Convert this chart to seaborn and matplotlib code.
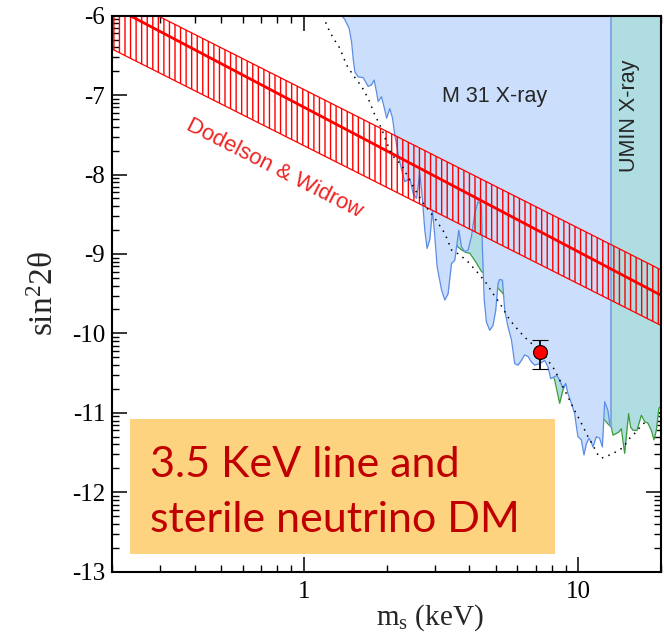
import numpy as np
import pandas as pd
import matplotlib
matplotlib.use("Agg")
import matplotlib.pyplot as plt
from matplotlib.ticker import LogLocator, FixedLocator, FuncFormatter, NullFormatter
from matplotlib.patches import Rectangle
import seaborn as sns

# Axis tick values
mass_ticks = [1, 10]
log_ticks = [-13, -12, -11, -10, -9, -8, -7, -6]

# Dodelson & Widrow production band, log10(sin^2 2theta) at the ends of the mass range
dw_mass = [0.2, 20.0]
dw_upper = [-5.71, -9.20]
dw_center = [-5.88, -9.52]
dw_lower = [-6.42, -9.90]

# M31 X-ray exclusion boundary (keV, log10 sin^2 2theta)
m31_mass = [1.375, 1.410, 1.462, 1.492, 1.512, 1.534, 1.576, 1.644, 1.714, 1.764,
            1.803, 1.839, 1.864, 1.918, 1.972, 2.001, 2.057, 2.103, 2.144, 2.208,
            2.269, 2.332, 2.432, 2.500, 2.572, 2.644, 2.705, 2.757, 2.811, 2.875,
            2.941, 2.999, 3.058, 3.172, 3.261, 3.352, 3.450, 3.546, 3.667, 3.751,
            3.856, 3.964, 4.078, 4.193, 4.310, 4.435, 4.472, 4.540, 4.625, 4.754,
            4.887, 4.999, 5.097, 5.170, 5.289, 5.392, 5.543, 5.703, 5.863, 6.027,
            6.201, 6.375, 6.554, 6.743, 6.932, 7.228, 7.538, 7.749, 7.928, 8.130,
            8.357, 8.548, 8.788, 8.990, 9.165, 9.430, 9.694, 9.883, 9.966, 10.25,
            10.48, 10.69, 10.93, 11.15, 11.30, 11.63, 11.95, 12.23, 12.47, 12.81,
            13.00, 13.19]
m31_log = [-6.00, -6.05, -6.16, -6.33, -6.54, -6.71, -6.77, -6.78, -6.89, -6.87,
           -6.81, -6.96, -7.08, -7.02, -7.19, -7.29, -7.17, -7.29, -7.50, -7.75,
           -7.94, -8.09, -8.05, -8.24, -8.30, -7.98, -8.32, -8.70, -8.93, -8.82,
           -8.45, -8.78, -9.16, -9.45, -9.58, -9.50, -9.12, -9.08, -8.70, -8.91,
           -8.97, -8.95, -8.78, -8.49, -8.34, -8.38, -8.95, -9.58, -9.86, -9.96,
           -9.90, -9.71, -9.37, -9.32, -9.33, -9.71, -9.92, -10.08, -10.38, -10.40,
           -10.34, -10.27, -10.29, -10.36, -10.40, -10.38, -10.34, -10.42, -10.57, -10.55,
           -10.53, -10.59, -10.69, -10.63, -10.76, -10.88, -11.01, -11.22, -11.30, -11.34,
           -11.53, -11.39, -11.32, -11.37, -11.43, -11.30, -11.32, -11.43, -10.86, -10.97,
           -11.13, -11.18]

# Ursa Minor X-ray exclusion boundary
umin_mass = [3.546, 3.636, 3.760, 3.888, 4.020, 4.228, 4.435, 4.754, 5.097, 5.289,
             5.622, 6.113, 6.646, 7.228, 7.749, 8.200, 8.548, 8.788, 8.990, 9.297,
             9.694, 10.54, 11.47, 12.26, 12.47, 12.81, 13.19, 13.36, 13.75, 14.05,
             14.34, 14.74, 14.95, 15.24, 15.50, 15.81, 16.35, 16.96, 17.43, 17.92,
             18.44, 18.85, 19.23, 19.65, 20.0]
umin_log = [-8.82, -8.91, -8.95, -8.98, -8.99, -9.10, -9.22, -9.30, -9.43, -9.49,
            -9.64, -9.86, -10.08, -10.25, -10.36, -10.59, -10.88, -10.71, -10.63, -10.71,
            -10.84, -10.97, -11.03, -11.07, -11.09, -11.14, -11.18, -11.28, -11.26, -11.24,
            -11.20, -11.51, -11.30, -11.01, -11.18, -11.22, -11.22, -11.03, -11.11, -11.13,
            -11.22, -11.34, -11.22, -10.94, -10.92]

# Combined limit (dotted)
limit_mass = [1.183, 1.209, 1.278, 1.352, 1.430, 1.512, 1.622, 1.714, 1.814, 1.918,
              2.001, 2.086, 2.269, 2.500, 2.719, 2.999, 3.261, 3.450, 3.698, 3.964,
              4.310, 4.625, 4.887, 5.170, 5.622, 6.113, 6.646, 7.333, 7.749, 8.200,
              8.671, 9.165, 9.694, 10.25, 10.84, 11.30, 11.79, 12.13, 12.65, 13.36,
              14.13, 14.74, 15.38, 16.03, 16.96, 17.88]
limit_log = [-6.00, -6.12, -6.28, -6.41, -6.62, -6.75, -6.89, -7.04, -7.25, -7.42,
             -7.59, -7.75, -7.88, -8.15, -8.36, -8.55, -8.74, -8.95, -9.01, -9.10,
             -9.24, -9.37, -9.50, -9.62, -9.83, -9.98, -10.11, -10.21, -10.34, -10.46,
             -10.63, -10.80, -10.97, -11.13, -11.30, -11.41, -11.53, -11.57, -11.55, -11.51,
             -11.47, -11.41, -11.32, -11.26, -11.16, -11.09]

# 3.5 keV line
line_mass = 7.25
line_log = -10.23
line_log_hi = -10.085
line_log_lo = -10.45

sns.set_theme(style="ticks")
plt.rcParams["font.family"] = ["Liberation Serif", "DejaVu Serif"]
plt.rcParams["mathtext.fontset"] = "custom"
plt.rcParams["mathtext.rm"] = "Liberation Serif"
plt.rcParams["mathtext.default"] = "regular"
plt.rcParams["axes.unicode_minus"] = False
plt.rcParams["hatch.linewidth"] = 1.0

fig = plt.figure(figsize=(6.64, 6.35), dpi=100)
ax = fig.add_axes([0.1687, 0.0997, 0.8268, 0.8756])
ax.set_xscale("log")
ax.set_yscale("log")
ax.set_xlim(0.2, 20)
ax.set_ylim(1e-13, 1e-6)

top = 1e-6
m31 = pd.DataFrame({"m": m31_mass, "s": 10 ** np.array(m31_log)})
umin = pd.DataFrame({"m": umin_mass, "s": 10 ** np.array(umin_log)})
limit = pd.DataFrame({"m": limit_mass, "s": 10 ** np.array(limit_log)})

blue_fill = "#CBDFFC"
teal_fill = "#AFDDE2"
blue_line = "#5C8CE6"
green_line = "#3C9A3C"

# UMIN excluded region
ax.fill_between(umin["m"], umin["s"], top, color=teal_fill, lw=0, zorder=1)
sns.lineplot(data=umin, x="m", y="s", sort=False, estimator=None,
             color=green_line, lw=0.9, ax=ax, zorder=1.5)

# M31 excluded region
ax.fill_between(m31["m"], m31["s"], top, color=blue_fill, lw=0, zorder=2)
sns.lineplot(data=m31, x="m", y="s", sort=False, estimator=None,
             color=blue_line, lw=0.9, ax=ax, zorder=2.5)
ax.plot([m31_mass[-1], m31_mass[-1]], [10 ** m31_log[-1], top],
        color="#7BA3E3", lw=1.3, zorder=2.6)

# Dodelson & Widrow band
dw_m = np.array(dw_mass)
ax.fill_between(dw_m, 10 ** np.array(dw_lower), 10 ** np.array(dw_upper),
                facecolor="none", edgecolor="#FF0000", hatch="|||", lw=0, zorder=3)
ax.plot(dw_m, 10 ** np.array(dw_upper), color="#FF0000", lw=0.9, zorder=3.1)
ax.plot(dw_m, 10 ** np.array(dw_lower), color="#FF0000", lw=0.9, zorder=3.1)
ax.plot(dw_m, 10 ** np.array(dw_center), color="#FF0000", lw=2.0, zorder=3.2)

# Combined limit
sns.lineplot(data=limit, x="m", y="s", sort=False, estimator=None,
             color="black", lw=1.1, linestyle=(0, (1, 3.5)), ax=ax, zorder=4)

# 3.5 keV line point
s0 = 10 ** line_log
ax.errorbar([line_mass], [s0],
            yerr=[[s0 - 10 ** line_log_lo], [10 ** line_log_hi - s0]],
            fmt="o", mfc="#FF0000", mec="black", mew=0.8, ms=10,
            ecolor="black", elinewidth=1.3, capsize=6, capthick=1.3, zorder=5)

# Labels inside the plot
ax.text(4.96, 10 ** -7.02, "M 31 X-ray", family="Liberation Sans", fontsize=15.5,
        ha="center", va="center", zorder=6)
ax.text(15.38, 10 ** -7.26, "UMIN X-ray", family="Liberation Sans", fontsize=15.5,
        rotation=90, ha="center", va="center", zorder=6)
ax.text(0.78, 10 ** -7.92, "Dodelson & Widrow", family="Liberation Sans",
        fontsize=16, color="#EE2424", rotation=-27, rotation_mode="anchor",
        ha="center", va="center", zorder=6)

# Highlight box
ax.add_patch(Rectangle((0.0328, 0.0313), 0.7736, 0.2433, transform=ax.transAxes,
                       facecolor="#FDD37F", edgecolor="none", zorder=7))
ax.text(0.0692, 0.1703, "3.5 KeV line and", transform=ax.transAxes,
        family="Lato", fontsize=31, color="#C00000", ha="left", va="baseline", zorder=8)
ax.text(0.0692, 0.0714, "sterile neutrino DM", transform=ax.transAxes,
        family="Lato", fontsize=31, color="#C00000", ha="left", va="baseline", zorder=8)

# Axes styling
ax.xaxis.set_major_locator(FixedLocator(mass_ticks))
ax.xaxis.set_minor_locator(LogLocator(base=10, subs=np.arange(2, 10), numticks=100))
ax.yaxis.set_major_locator(FixedLocator([10.0 ** k for k in log_ticks]))
ax.yaxis.set_minor_locator(LogLocator(base=10, subs=np.arange(2, 10), numticks=100))
ax.xaxis.set_major_formatter(FuncFormatter(lambda v, p: f"{v:g}"))
ax.yaxis.set_major_formatter(FuncFormatter(lambda v, p: f"{int(round(np.log10(v)))}"))
ax.xaxis.set_minor_formatter(NullFormatter())
ax.yaxis.set_minor_formatter(NullFormatter())
ax.tick_params(which="both", direction="in", top=True, right=True,
               colors="black", labelsize=18)
ax.tick_params(which="major", length=10.5, width=1.1)
ax.tick_params(which="minor", length=5, width=1.0)
ax.tick_params(axis="y", pad=5)
ax.tick_params(axis="x", pad=7)
for sp in ax.spines.values():
    sp.set_linewidth(1.5)
    sp.set_color("black")
    sp.set_zorder(10)

ax.set_xlabel(r"m$_{\rm s}$ (keV)", fontsize=21, ha="center", va="center")
ax.xaxis.set_label_coords(0.579, -0.083)
ax.set_ylabel(r"sin$^{2}$2θ", fontsize=24, ha="center", va="center")
ax.yaxis.set_label_coords(-0.122, 0.5)

fig.savefig("out.png", dpi=100)
